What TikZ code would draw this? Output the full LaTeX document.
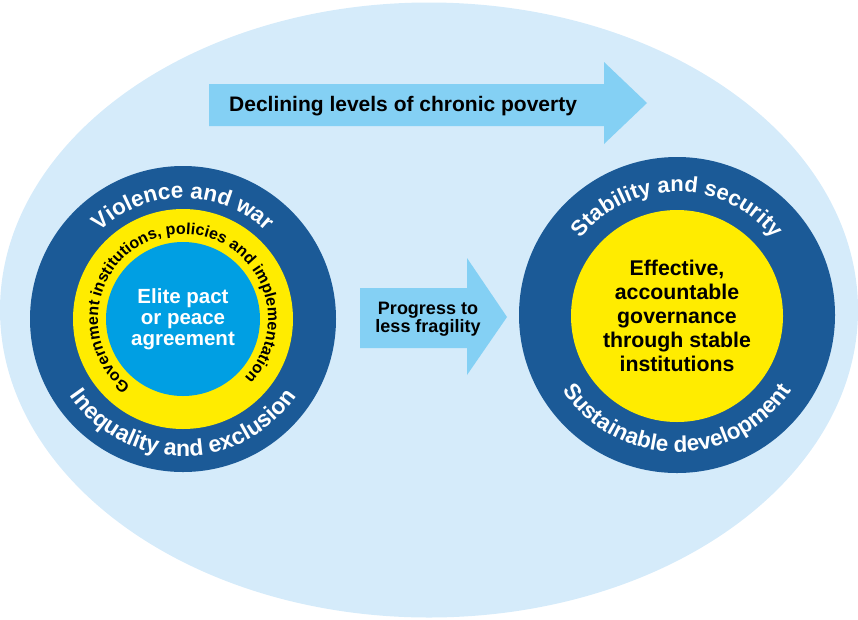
\documentclass[tikz,border=0pt]{standalone}
\usepackage{fontspec}
\setmainfont{Liberation Sans}
\usetikzlibrary{decorations.text,shapes.geometric}
\definecolor{bgblue}{HTML}{D5EBFA}
\definecolor{arrowblue}{HTML}{84D0F4}
\definecolor{darkblue}{HTML}{1B5A97}
\definecolor{ringyellow}{HTML}{FFEC00}
\definecolor{corecyan}{HTML}{009FE3}
\tikzset{
  disc/.style={circle, inner sep=0pt, draw=none},
  arrowshape/.style={fill=arrowblue, draw=none},
  ringtext/.style={decorate, decoration={text along path, text align=center, text color=#1}},
}
\begin{document}
\begin{tikzpicture}[x=1pt,y=1pt]
\useasboundingbox (0,0) rectangle (858,-619);
% background ellipse
\node[ellipse, fill=bgblue, minimum width=858pt, minimum height=615pt, inner sep=0pt] (bg) at (429,-310) {};
% top arrow
\fill[arrowshape] (209,-84) -- (604,-84) -- (604,-62) -- (647,-103) -- (604,-144) -- (604,-126) -- (209,-126) -- cycle;
\node[anchor=base west, inner sep=0pt, font=\bfseries\fontsize{21}{24}\selectfont] (poverty) at (229,-111) {Declining levels of chronic poverty};
% middle arrow
\fill[arrowshape] (360,-288) -- (467,-288) -- (467,-258) -- (507,-317) -- (467,-375) -- (467,-348) -- (360,-348) -- cycle;
\node[align=center, inner sep=0pt, font=\bfseries\fontsize{18}{18.5}\selectfont] (progress) at (428,-319) {Progress to\\less fragility};
% left circles
\node[disc, fill=darkblue, minimum size=306pt] (Lout) at (183,-319) {};
\node[disc, fill=ringyellow, minimum size=220pt] (Lmid) at (Lout.center) {};
\node[disc, fill=corecyan, minimum size=154pt] (Lin) at (Lout.center) {};
\node[align=center, text=white, inner sep=0pt, font=\bfseries\fontsize{20.5}{21}\selectfont] (elite) at (Lout.center) {Elite pact\\or peace\\agreement};
\path[ringtext=white, decoration={text={|\bfseries\fontsize{22.5}{26}\selectfont|Violence and war}}]
  (Lout.center) ++(160:121pt) arc[start angle=160, end angle=20, radius=121pt];
\path[ringtext=white, decoration={text={|\bfseries\fontsize{23}{26}\selectfont|Inequality and exclusion}}]
  (Lout.center) ++(195:137pt) arc[start angle=195, end angle=345, radius=137pt];
\path[ringtext=black, decoration={text={|\bfseries\fontsize{16}{18}\selectfont|Government institutions, policies and implementation}}]
  (Lout.center) ++(252:85pt) arc[start angle=252, end angle=-64, radius=85pt];
% right circles
\node[disc, fill=darkblue, minimum size=316pt] (Rout) at (677,-315) {};
\node[disc, fill=ringyellow, minimum size=212pt] (Rin) at (677,-316) {};
\node[align=center, inner sep=0pt, font=\bfseries\fontsize{21.3}{24}\selectfont] (governance) at (Rin.center) {Effective,\\accountable\\governance\\through stable\\institutions};
\path[ringtext=white, decoration={text={|\bfseries\fontsize{22}{26}\selectfont|Stability and security}}]
  (Rout.center) ++(160:123pt) arc[start angle=160, end angle=20, radius=123pt];
\path[ringtext=white, decoration={text={|\bfseries\fontsize{22.5}{26}\selectfont|Sustainable development}}]
  (Rout.center) ++(195:137pt) arc[start angle=195, end angle=345, radius=137pt];
\end{tikzpicture}
\end{document}
